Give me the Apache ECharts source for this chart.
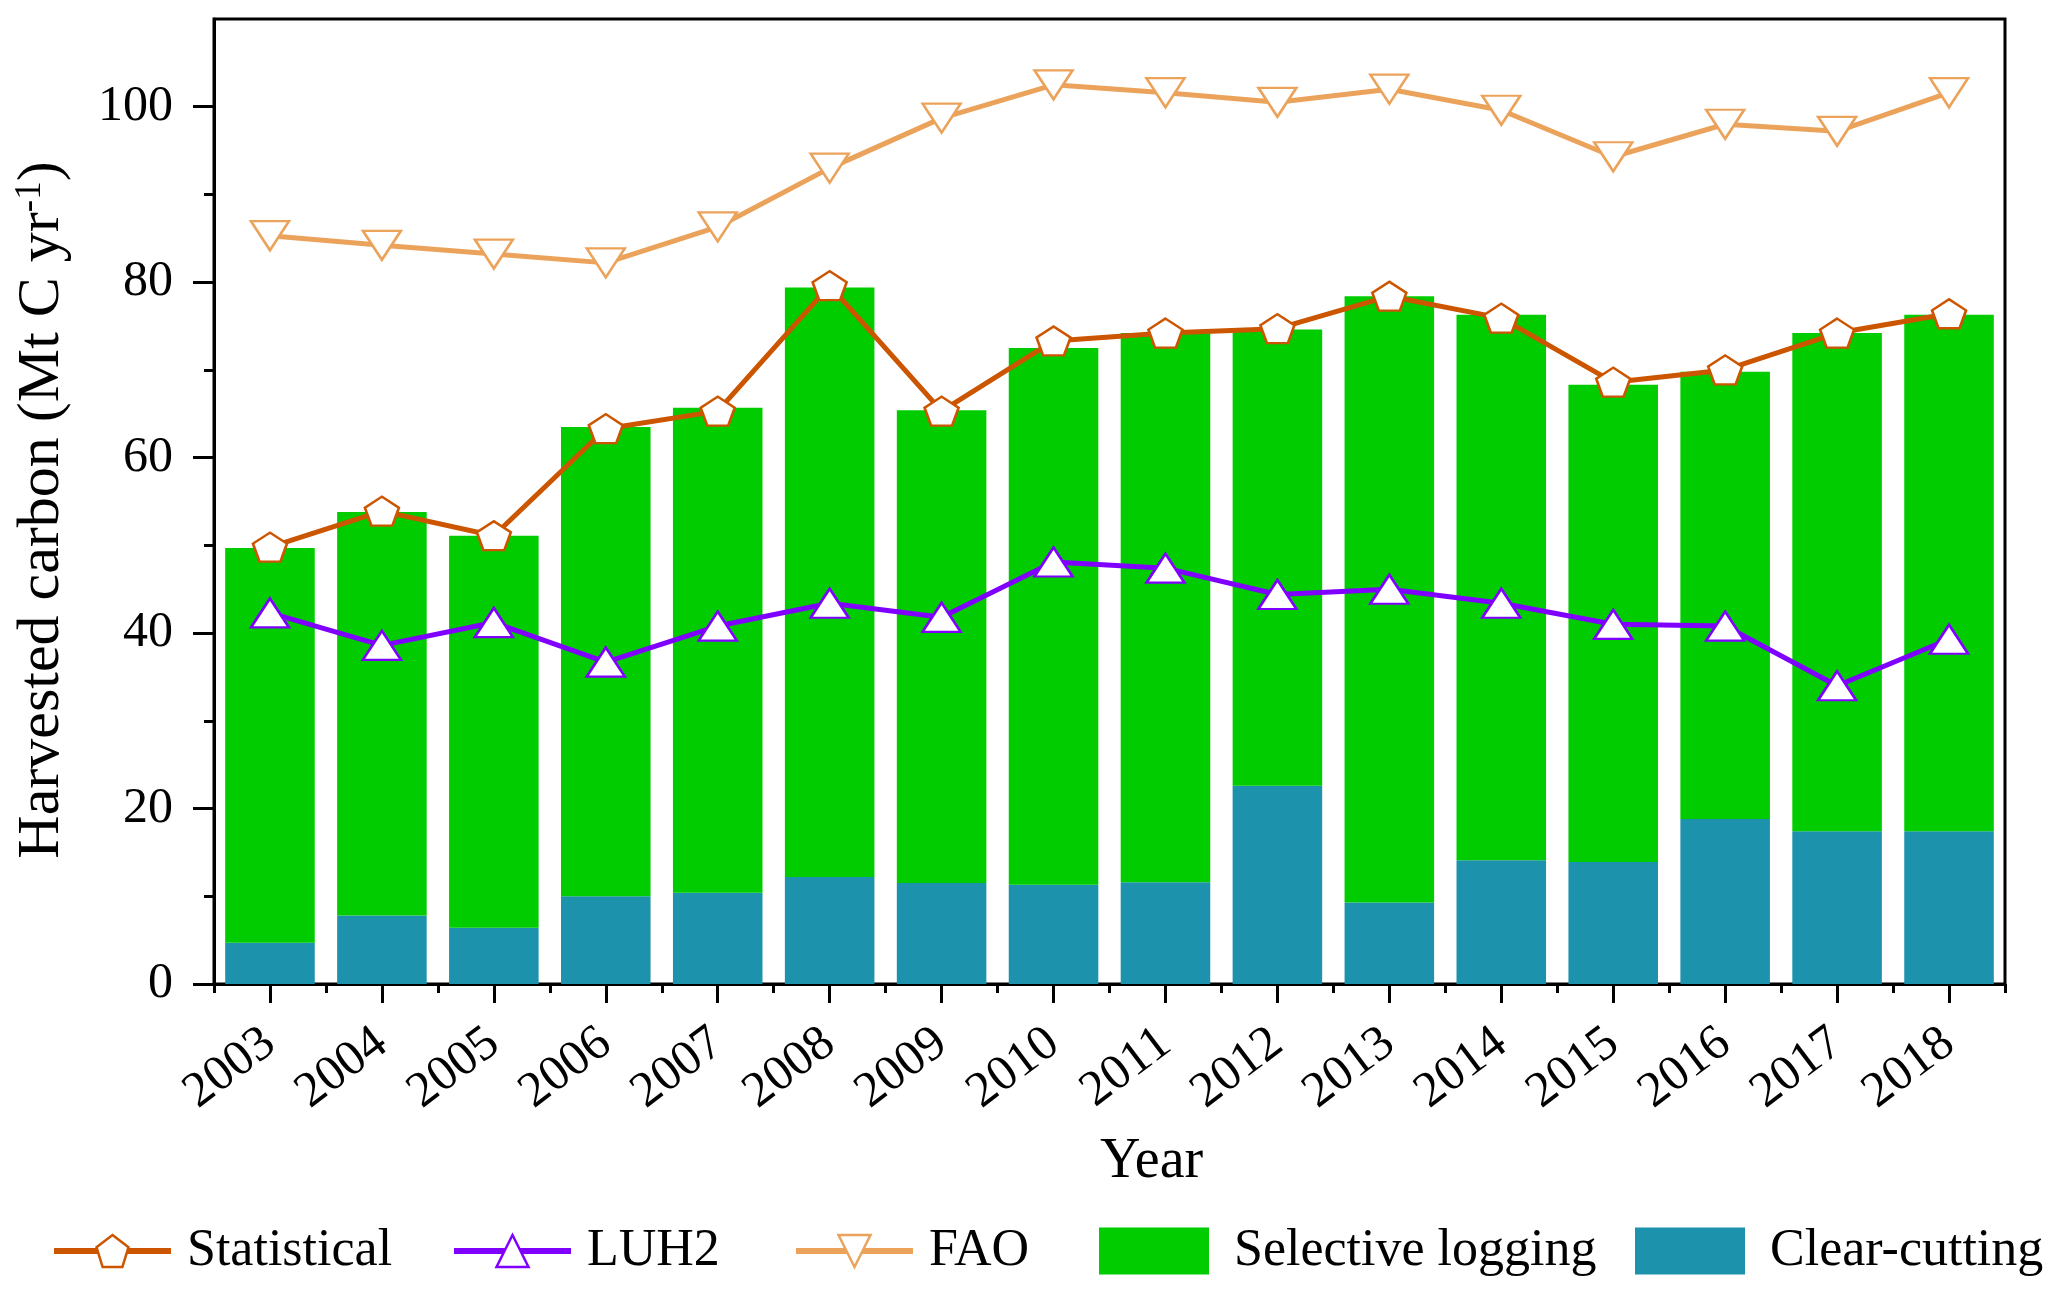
<!DOCTYPE html>
<html>
<head>
<meta charset="utf-8">
<script src="https://cdn.jsdelivr.net/npm/echarts@6/dist/echarts.min.js"></script>
<style>
html,body{margin:0;padding:0;background:#fff;}
#chart{width:2067px;height:1295px;}
</style>
</head>
<body>
<div id="chart"></div>
<script>
const years = ['2003','2004','2005','2006','2007','2008','2009','2010','2011','2012','2013','2014','2015','2016','2017','2018'];
const clearCutting = [4.7, 7.8, 6.4, 10.0, 10.4, 12.2, 11.5, 11.3, 11.6, 22.6, 9.3, 14.1, 13.9, 18.8, 17.4, 17.4];
const selectiveLogging = [45.0, 46.0, 44.7, 53.5, 55.3, 67.2, 53.9, 61.2, 62.6, 52.0, 69.1, 62.2, 54.4, 51.0, 56.8, 58.9];
const statistical = [49.8, 53.9, 51.1, 63.3, 65.3, 79.6, 65.3, 73.3, 74.2, 74.7, 78.4, 75.9, 68.6, 70.0, 74.2, 76.4];
const luh2 = [42.3, 38.6, 41.2, 36.7, 40.8, 43.4, 41.8, 48.1, 47.4, 44.4, 45.0, 43.4, 41.0, 40.8, 34.0, 39.3];
const fao = [85.3, 84.2, 83.2, 82.2, 86.3, 93.0, 98.7, 102.5, 101.6, 100.5, 102.0, 99.6, 94.3, 98.0, 97.2, 101.6];
const yMajorTicks = [0, 20, 40, 60, 80, 100];
const yMinorTicks = [10, 30, 50, 70, 90];

const FONT = 'Liberation Serif';
const C_STAT = '#CC5500', C_LUH = '#8000FF', C_FAO = '#EBA35C', C_SEL = '#00CC00', C_CLR = '#1C92AC';
const PENTAGON = 'path://M50,0 L97.55,34.55 L79.39,90.45 L20.61,90.45 L2.45,34.55 Z';
const DOWN_TRI = 'path://M0,0 L100,0 L50,100 Z';

const chart = echarts.init(document.getElementById('chart'), null, {renderer: 'canvas'});

function lineLegend(name, left) {
  return {
    data: [name], left: left, top: 1220, orient: 'horizontal',
    itemWidth: 117, itemHeight: 40, itemGap: 0,
    lineStyle: {width: 6},
    itemStyle: {borderWidth: 2.5},
    textStyle: {fontFamily: FONT, fontSize: 52, color: '#000', padding: [0, 0, 0, 11]},
    selectedMode: false
  };
}
function rectLegend(name, left) {
  return {
    data: [name], left: left, top: 1220, orient: 'horizontal', icon: 'rect',
    itemWidth: 110, itemHeight: 47, itemGap: 0,
    textStyle: {fontFamily: FONT, fontSize: 52, color: '#000', padding: [0, 0, 0, 20]},
    selectedMode: false
  };
}

const option = {
  animation: false,
  backgroundColor: '#fff',
  textStyle: {fontFamily: FONT},
  grid: {left: 214, right: 62, top: 19, bottom: 311, show: true, borderColor: '#000', borderWidth: 3, containLabel: false},
  legend: [
    lineLegend('Statistical', 46),
    lineLegend('LUH2', 446),
    lineLegend('FAO', 788),
    rectLegend('Selective logging', 1094),
    rectLegend('Clear-cutting', 1630)
  ],
  xAxis: [
    {
      type: 'category', data: years, position: 'bottom', boundaryGap: true,
      axisLine: {show: true, lineStyle: {color: '#000', width: 3}},
      axisTick: {show: true, alignWithLabel: true, interval: 0, length: 19, lineStyle: {color: '#000', width: 3}},
      axisLabel: {interval: 0, rotate: 37, margin: 54, fontFamily: FONT, fontSize: 50, color: '#000', hideOverlap: false},
      splitLine: {show: false}
    },
    {
      type: 'category', data: years, position: 'bottom', boundaryGap: true,
      axisLine: {show: false},
      axisTick: {show: true, alignWithLabel: false, interval: 0, length: 9, lineStyle: {color: '#000', width: 3}},
      axisLabel: {show: false},
      splitLine: {show: false}
    }
  ],
  yAxis: [
    {
      type: 'value', min: 0, max: 110, interval: 10, position: 'left',
      axisLine: {show: true, lineStyle: {color: '#000', width: 3}},
      axisTick: {show: true, length: 21, customValues: yMajorTicks, lineStyle: {color: '#000', width: 3}},
      axisLabel: {customValues: yMajorTicks, margin: 41, fontFamily: FONT, fontSize: 50, color: '#000'},
      splitLine: {show: false}
    },
    {
      type: 'value', min: 0, max: 110, interval: 10, position: 'left',
      axisLine: {show: false},
      axisTick: {show: true, length: 10, customValues: yMinorTicks, lineStyle: {color: '#000', width: 3}},
      axisLabel: {show: false},
      splitLine: {show: false}
    }
  ],
  series: [
    {
      name: 'Clear-cutting', type: 'bar', stack: 'harvest', xAxisIndex: 0, yAxisIndex: 0,
      data: clearCutting, barCategoryGap: '20%', itemStyle: {color: C_CLR}, z: 2
    },
    {
      name: 'Selective logging', type: 'bar', stack: 'harvest', xAxisIndex: 0, yAxisIndex: 0,
      data: selectiveLogging, barCategoryGap: '20%', itemStyle: {color: C_SEL}, z: 2
    },
    {
      name: 'FAO', type: 'line', xAxisIndex: 0, yAxisIndex: 0, data: fao,
      symbol: DOWN_TRI, symbolSize: [38, 29], showAllSymbol: true,
      lineStyle: {color: C_FAO, width: 5},
      itemStyle: {color: '#fff', borderColor: C_FAO, borderWidth: 2.5},
      z: 5
    },
    {
      name: 'Statistical', type: 'line', xAxisIndex: 0, yAxisIndex: 0, data: statistical,
      symbol: PENTAGON, symbolSize: [34, 29], showAllSymbol: true,
      lineStyle: {color: C_STAT, width: 5},
      itemStyle: {color: '#fff', borderColor: C_STAT, borderWidth: 2.5},
      z: 6
    },
    {
      name: 'LUH2', type: 'line', xAxisIndex: 0, yAxisIndex: 0, data: luh2,
      symbol: 'triangle', symbolSize: [38, 29], showAllSymbol: true,
      lineStyle: {color: C_LUH, width: 5},
      itemStyle: {color: '#fff', borderColor: C_LUH, borderWidth: 2.5},
      z: 6
    }
  ],
  graphic: [
    {
      type: 'text', left: 1100, top: 1134,
      style: {text: 'Year', fontFamily: FONT, fontSize: 56, fill: '#000'}
    },
    {
      type: 'text', x: 42, y: 510, rotation: Math.PI / 2,
      style: {
        text: 'Harvested carbon (Mt C yr{sup|-1})',
        fontFamily: FONT, fontSize: 60, fill: '#000',
        align: 'center', verticalAlign: 'middle',
        rich: {sup: {fontFamily: FONT, fontSize: 37, fill: '#000', verticalAlign: 'top', lineHeight: 60, padding: [0, 0, 20, 0]}}
      }
    }
  ]
};
chart.setOption(option);
</script>
</body>
</html>
